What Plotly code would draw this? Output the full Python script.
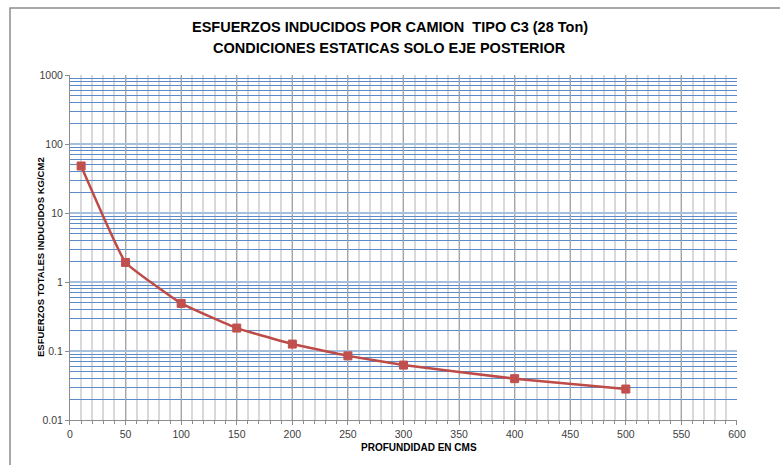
import plotly.graph_objects as go

# Data
profundidad = [10, 50, 100, 150, 200, 250, 300, 400, 500]
esfuerzo = [48, 1.92, 0.49, 0.215, 0.126, 0.085, 0.0625, 0.0397, 0.0281]

y_tickvals = [0.01, 0.1, 1, 10, 100, 1000]
y_ticktext = ["0.01", "0.1", "1", "10", "100", "1000"]
x_tickvals = [0, 50, 100, 150, 200, 250, 300, 350, 400, 450, 500, 550, 600]

title_line1 = "ESFUERZOS INDUCIDOS POR CAMION  TIPO C3 (28 Ton)"
title_line2 = "CONDICIONES ESTATICAS SOLO EJE POSTERIOR"
x_title = "PROFUNDIDAD EN CMS"
y_title = "ESFUERZOS TOTALES INDUCIDOS KG/CM2"

bold_font = "Liberation Sans Narrow, Arial Narrow, Liberation Sans, Arial"
title_font = dict(family=bold_font, size=14.5, color="black", weight="bold")

fig = go.Figure()
fig.add_trace(go.Scatter(
    x=profundidad, y=esfuerzo, mode="lines+markers",
    xaxis="x", yaxis="y",
    line=dict(color="#BE4B48", width=2.5, shape="spline", smoothing=0.3),
    marker=dict(symbol="square", size=8, color="#C0504D",
                line=dict(color="#C0504D", width=1)),
    showlegend=False,
))

border = dict(color="#8C8C8C", width=1.5)

# paper spans x 10..780 px, y 8..465 px (chart-area border at left/top)
fig.update_layout(
    width=780, height=465,
    margin=dict(l=10, r=0, t=8, b=0, autoexpand=False),
    paper_bgcolor="white", plot_bgcolor="rgba(0,0,0,0)",
    font=dict(family="Liberation Sans, Arial", size=10, color="#333333"),
    shapes=[
        dict(type="rect", xref="paper", yref="paper",
             x0=0.0, x1=1.2, y0=-0.2, y1=1.0, line=border,
             fillcolor="rgba(0,0,0,0)", layer="above"),
    ],
    annotations=[
        dict(text=title_line1, xref="paper", yref="paper", x=0.4935, y=0.9584,
             xanchor="center", yanchor="middle", showarrow=False, font=title_font),
        dict(text=title_line2, xref="paper", yref="paper", x=0.4935, y=0.9125,
             xanchor="center", yanchor="middle", showarrow=False, font=title_font),
        dict(text=x_title, xref="paper", yref="paper", x=0.5312, y=0.0372,
             xanchor="center", yanchor="middle", showarrow=False,
             font=dict(family=bold_font, size=10, color="black", weight="bold")),
        dict(text=y_title, xref="paper", yref="paper", x=0.03896, y=0.4551,
             xanchor="center", yanchor="middle", showarrow=False, textangle=-90,
             font=dict(family=bold_font, size=9.5, color="black", weight="bold")),
    ],
    xaxis=dict(
        domain=[0.07792, 0.94416], anchor="y",
        range=[0, 600], tickvals=x_tickvals,
        showgrid=True, gridcolor="#A6A6A6", gridwidth=1.3,
        minor=dict(dtick=10, showgrid=True, gridcolor="#D9D9D9", gridwidth=2,
                   ticks="outside", ticklen=3, tickcolor="#8C8C8C"),
        ticks="outside", ticklen=4, tickcolor="#8C8C8C",
        showline=True, linecolor="#8C8C8C", linewidth=1, mirror=False,
        zeroline=False,
        tickfont=dict(size=10.5, color="#404040"),
    ),
    yaxis=dict(
        domain=[0.09847, 0.85339], anchor="x",
        type="log", range=[-2, 3], tickvals=y_tickvals, ticktext=y_ticktext,
        showgrid=True, gridcolor="#A7BFDE", gridwidth=2,
        minor=dict(dtick="D1", showgrid=True, gridcolor="#5B8BC9", gridwidth=1,
                   ticks=""),
        ticks="outside", ticklen=4, tickcolor="#8C8C8C",
        showline=True, linecolor="#8C8C8C", linewidth=1,
        zeroline=False,
        tickfont=dict(size=10.5, color="#404040"),
    ),
)

fig.write_html("out.html")
